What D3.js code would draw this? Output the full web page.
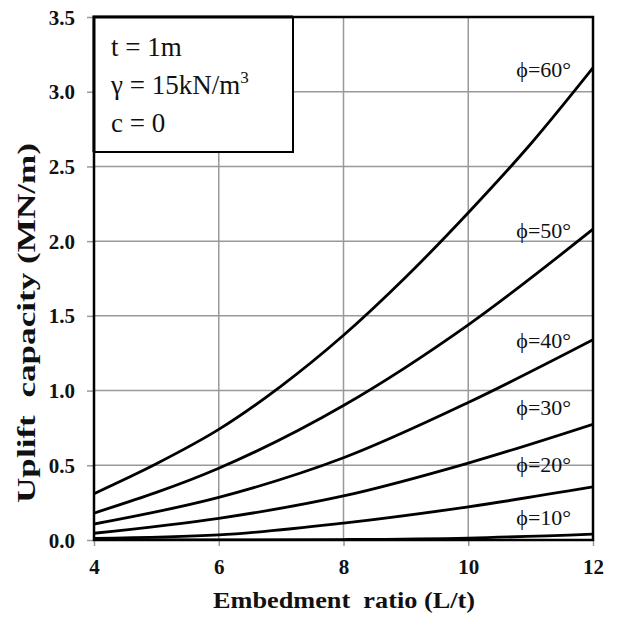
<!DOCTYPE html>
<html lang="en">
<head>
<meta charset="UTF-8">
<title>Uplift capacity</title>
<script src="https://d3js.org/d3.v7.min.js"></script>
<style>
  html, body { margin: 0; background: #fff; }
  text { font-family: "Liberation Serif", "Times New Roman", serif; }
</style>
</head>
<body>
<div id="vis"></div>
<script>
// embedment ratio L/t
var ratios = [4, 6, 8, 10, 12];
var ratios60 = [4, 5, 6, 7, 8, 9, 10, 11, 12];

// uplift capacity (MN/m) per friction angle
var phi60 = [0.31, 0.51, 0.74, 1.03, 1.37, 1.76, 2.19, 2.65, 3.16];
var phi50 = [0.18, 0.48, 0.90, 1.44, 2.08];
var phi40 = [0.107, 0.285, 0.55, 0.92, 1.34];
var phi30 = [0.045, 0.145, 0.295, 0.515, 0.775];
var phi20 = [0.011, 0.034, 0.113, 0.222, 0.355];
var phi10 = [0.0, 0.0, 0.003, 0.013, 0.04];

var seriesNames = ["ϕ=60°", "ϕ=50°", "ϕ=40°", "ϕ=30°", "ϕ=20°", "ϕ=10°"];
var xTicks = [4, 6, 8, 10, 12];
var yTicks = [0, 0.5, 1.0, 1.5, 2.0, 2.5, 3.0, 3.5];

var width = 619, height = 617;
var margin = {top: 17, right: 26, bottom: 77, left: 94};

var svg = d3.select('#vis')
    .append('svg')
    .attr('width', width)
    .attr('height', height);

var w = width - margin.left - margin.right;
var h = height - margin.top - margin.bottom;

var g = svg.append('g')
    .attr('transform', 'translate(' + margin.left + ',' + margin.top + ')');

var x_scale = d3.scaleLinear().domain([4, 12]).range([0, w]);
var y_scale = d3.scaleLinear().domain([0, 3.5]).range([h, 0]);

// grid
g.append('g').selectAll('line')
    .data(xTicks.slice(1, -1))
    .enter().append('line')
    .attr('x1', function(d) { return x_scale(d); })
    .attr('x2', function(d) { return x_scale(d); })
    .attr('y1', 0).attr('y2', h)
    .attr('stroke', '#999').attr('stroke-width', 1.5);

g.append('g').selectAll('line')
    .data(yTicks.slice(1, -1))
    .enter().append('line')
    .attr('y1', function(d) { return y_scale(d); })
    .attr('y2', function(d) { return y_scale(d); })
    .attr('x1', 0).attr('x2', w)
    .attr('stroke', '#999').attr('stroke-width', 1.5);

// axes
var y_axis = d3.axisLeft(y_scale).tickValues(yTicks).tickSize(7).tickFormat(d3.format('.1f'));
var x_axis = d3.axisBottom(x_scale).tickValues(xTicks).tickSize(6).tickFormat(d3.format('d'));

var ya = g.append('g').call(y_axis);
ya.select('.domain').remove();
ya.selectAll('line').attr('stroke', '#999').attr('stroke-width', 1.5);
ya.selectAll('text')
    .attr('x', -19)
    .attr('dy', '0.34em')
    .style('font-family', '"Liberation Serif", serif')
    .style('font-weight', 'bold')
    .style('font-size', '21px')
    .attr('fill', '#111');

var xa = g.append('g').attr('transform', 'translate(0,' + h + ')').call(x_axis);
xa.select('.domain').remove();
xa.selectAll('line').attr('stroke', '#999').attr('stroke-width', 1.5);
xa.selectAll('text')
    .attr('y', 34)
    .attr('dy', '0')
    .style('font-family', '"Liberation Serif", serif')
    .style('font-weight', 'bold')
    .style('font-size', '21px')
    .attr('fill', '#111');

// curves
var line = d3.line()
    .x(function(d) { return x_scale(d[0]); })
    .y(function(d) { return y_scale(d[1]); })
    .curve(d3.curveMonotoneX);

var allSeries = [
    d3.zip(ratios60, phi60),
    d3.zip(ratios, phi50),
    d3.zip(ratios, phi40),
    d3.zip(ratios, phi30),
    d3.zip(ratios, phi20),
    d3.zip(ratios, phi10)
];

g.append('defs').append('clipPath').attr('id', 'clip')
    .append('rect').attr('width', w).attr('height', h);

g.append('g').attr('clip-path', 'url(#clip)')
    .selectAll('path')
    .data(allSeries)
    .enter().append('path')
    .attr('d', line)
    .attr('fill', 'none')
    .attr('stroke', '#000')
    .attr('stroke-width', 2.8);

// curve labels, placed just above each curve's end
var labelY = [77, 238, 348, 415, 472, 525];
g.append('g').selectAll('text')
    .data(seriesNames)
    .enter().append('text')
    .attr('x', x_scale(11.65))
    .attr('y', function(d, i) { return labelY[i] - margin.top; })
    .attr('text-anchor', 'end')
    .style('font-size', '22px')
    .attr('fill', '#111')
    .text(function(d) { return d; });

// frame
g.append('rect')
    .attr('width', w).attr('height', h)
    .attr('fill', 'none')
    .attr('stroke', '#000')
    .attr('stroke-width', 2.5);

// info box
var box = g.append('g');
box.append('rect')
    .attr('x', 0).attr('y', 0)
    .attr('width', 199).attr('height', 135)
    .attr('fill', '#fff')
    .attr('stroke', '#000')
    .attr('stroke-width', 2);
box.append('path')
    .attr('d', 'M0,' + 135 + 'V0H' + 199)
    .attr('stroke', '#000').attr('stroke-width', 3).attr('fill', 'none');

var info = box.append('g').style('font-size', '27px').attr('fill', '#111');
info.append('text').attr('x', 17).attr('y', 39).text('t = 1m');
var t2 = info.append('text').attr('x', 17).attr('y', 77);
t2.append('tspan').text('γ = 15kN/m');
t2.append('tspan').attr('dy', -11).style('font-size', '17px').text('3');
info.append('text').attr('x', 17).attr('y', 115).text('c = 0');

// axis titles
svg.append('text')
    .attr('x', 344)
    .attr('y', 608)
    .attr('text-anchor', 'middle')
    .attr('textLength', 262)
    .attr('lengthAdjust', 'spacingAndGlyphs')
    .style('font-weight', 'bold')
    .style('font-size', '23px')
    .style('white-space', 'pre')
    .attr('fill', '#111')
    .text('Embedment  ratio (L/t)');

svg.append('text')
    .attr('transform', 'translate(35,323) rotate(-90)')
    .attr('text-anchor', 'middle')
    .attr('textLength', 360)
    .attr('lengthAdjust', 'spacingAndGlyphs')
    .style('font-weight', 'bold')
    .style('font-size', '25px')
    .style('white-space', 'pre')
    .attr('fill', '#111')
    .text('Uplift  capacity (MN/m)');
</script>
</body>
</html>
